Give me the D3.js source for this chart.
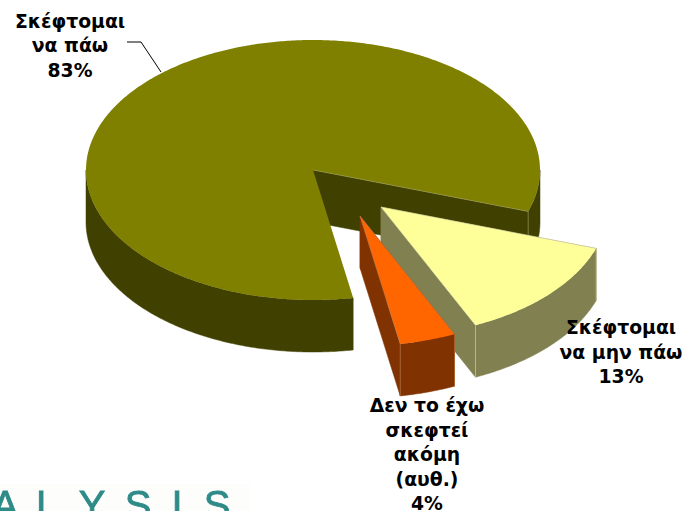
<!DOCTYPE html>
<html><head><meta charset="utf-8">
<script src="https://cdn.jsdelivr.net/npm/d3@7"></script>
<style>html,body{margin:0;padding:0;background:#fff}svg{display:block}</style>
</head><body><div id="chart"></div>
<script>
const categories = ["Σκέφτομαι να πάω", "Σκέφτομαι να μην πάω", "Δεν το έχω σκεφτεί ακόμη (αυθ.)"];
const values = [83, 13, 4];
const topColors = ["#808000", "#FFFF99", "#FF6600"];
const wallColors = ["#404000", "#808050", "#803300"];
const seamColors = ["#a0a060", "#d8d8a8", "#c08050"];
const offsetsX = [0, 68, 47];
const offsetsY = [0, 37, 46];
const labelLines = [["Σκέφτομαι","να πάω","83%"],["Σκέφτομαι","να μην πάω","13%"],["Δεν το έχω","σκεφτεί","ακόμη","(αυθ.)","4%"]];
const labelCx = [70, 621, 427];
const labelY0 = [27.5, 334, 412];
const logoLetters = ["A","L","Y","S","I","S"];
const logoCx = [5, 47, 92, 138, 177, 217];

const W = 683, H = 511, cx = 313, cy = 170, rx = 227, ry = 130, depth = 52;
const svg = d3.select("#chart").append("svg").attr("width", W).attr("height", H);

const defs = svg.append("defs");
defs.append("filter").attr("id", "soft").append("feGaussianBlur").attr("stdDeviation", 0.7);

const rad = d3.scaleLinear().domain([0, 360]).range([0, 2 * Math.PI]);
const pie = d3.pie().sort(null).value(d => d).startAngle(rad(169.8)).endAngle(rad(169.8 + 360));
const arcs = pie(values);
const rxScale = d3.scaleLinear().domain([0, 1]).range([0, rx]);
const ryScale = d3.scaleLinear().domain([0, 1]).range([0, ry]);
const line = d3.line();

function pt(i, a, r, dz) { // a in d3 pie angle (clockwise from north)
  return [cx + offsetsX[i] + rxScale(r) * Math.sin(a), cy + offsetsY[i] + ryScale(r) * -Math.cos(a) + (dz || 0)];
}
function rim(i, a0, a1, dz) {
  const n = Math.max(2, Math.ceil((a1 - a0) / 0.01));
  return d3.range(n + 1).map(k => pt(i, a0 + (a1 - a0) * k / n, 1, dz));
}
// Outer wall is only visible where the rim faces the viewer (screen-south half)
function drawOuter(g, i, a0, a1) {
  const ranges = [[Math.PI / 2, 3 * Math.PI / 2], [Math.PI / 2 + 2 * Math.PI, 3 * Math.PI / 2 + 2 * Math.PI]];
  ranges.forEach(([lo, hi]) => {
    const s = Math.max(a0, lo), e = Math.min(a1, hi);
    if (e > s) {
      const pts = rim(i, s, e, 0).concat(rim(i, s, e, depth).reverse());
      g.append("path").attr("d", line(pts) + "Z").attr("fill", wallColors[i]).attr("stroke", wallColors[i]).attr("stroke-width", 0.5);
    }
  });
}
function drawCut(g, i, a) {
  const p = [pt(i, a, 0, 0), pt(i, a, 1, 0), pt(i, a, 1, depth), pt(i, a, 0, depth)];
  g.append("path").attr("d", line(p) + "Z").attr("fill", wallColors[i]).attr("stroke", wallColors[i]).attr("stroke-width", 0.5);
}
function drawTop(g, i, a0, a1) {
  const p = [pt(i, a0, 0, 0)].concat(rim(i, a0, a1, 0));
  g.append("path").attr("d", line(p) + "Z").attr("fill", topColors[i]);
}
function drawSeam(g, i, a) {
  g.append("path").attr("d", line([pt(i, a, 0, 0), pt(i, a, 1, 0), pt(i, a, 1, depth)]))
    .attr("fill", "none").attr("stroke", seamColors[i]).attr("stroke-width", 0.6);
}

// Logo fragment behind everything
svg.append("rect").attr("x", 0).attr("y", 484).attr("width", 250).attr("height", 27).attr("fill", "#fdfdfb");
svg.append("g").attr("filter", "url(#soft)").selectAll("text").data(logoLetters).join("text")
  .attr("x", (d, i) => logoCx[i]).attr("y", 519).attr("text-anchor", "middle")
  .attr("font-family", "'Liberation Sans'").attr("font-size", 40).attr("fill", "#2e8b88")
  .attr("stroke", "#2e8b88").attr("stroke-width", 0.8).text(d => d);

// Draw slices back to front: main, yellow, orange
[0, 1, 2].forEach(i => {
  const d = arcs[i], g = svg.append("g");
  if (i === 0) drawCut(g, i, d.endAngle);
  if (i !== 0) drawCut(g, i, d.startAngle);
  if (i !== 0) drawCut(g, i, d.endAngle);
  drawOuter(g, i, d.startAngle, d.endAngle);
  drawTop(g, i, d.startAngle, d.endAngle);
  drawSeam(g, i, i === 0 ? d.endAngle : d.startAngle);
  if (i !== 0) drawSeam(g, i, d.endAngle);
});

// Leader line
svg.append("path").attr("d", line([[127, 42], [141, 42], [161, 72]])).attr("fill", "none").attr("stroke", "#000").attr("stroke-width", 1);

// Labels
labelLines.forEach((lines, i) => {
  const t = svg.append("text").attr("text-anchor", "middle")
    .attr("font-family", "'DejaVu Sans'").attr("font-weight", "bold").attr("font-size", 18.8).attr("fill", "#000");
  lines.forEach((s, k) => t.append("tspan").attr("x", labelCx[i]).attr("y", labelY0[i] + k * 24.6).text(s));
});
</script></body></html>
